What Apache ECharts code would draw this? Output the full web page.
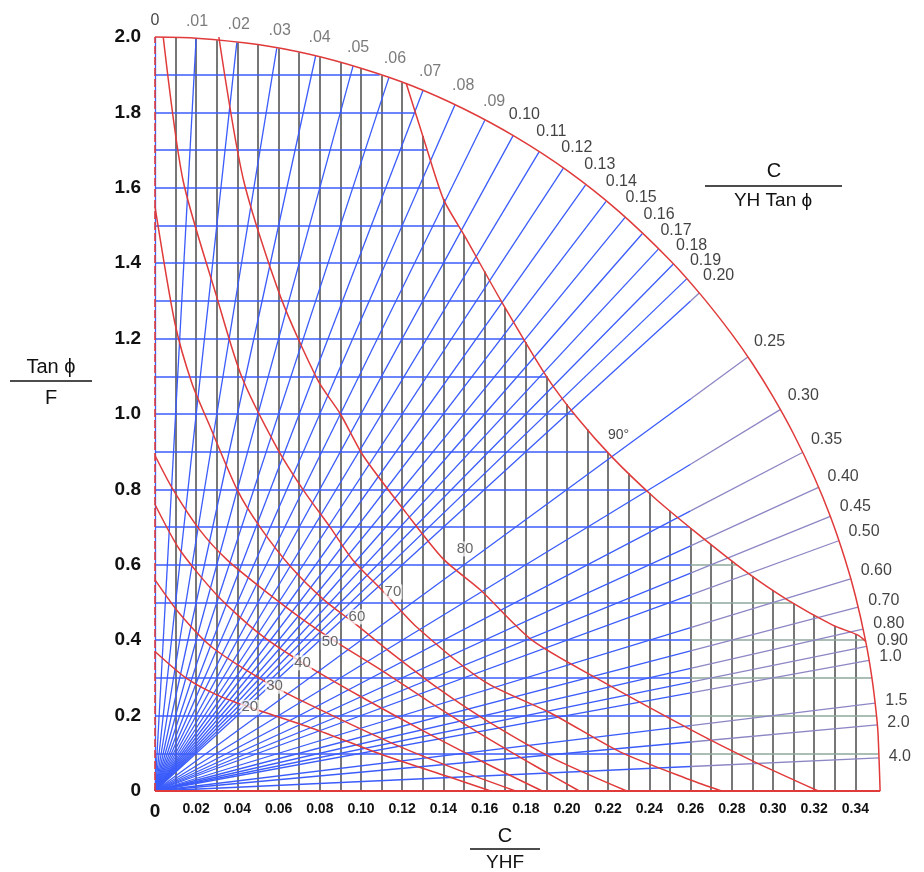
<!DOCTYPE html>
<html><head><meta charset="utf-8">
<script src="https://cdn.jsdelivr.net/npm/echarts@6/dist/echarts.min.js"></script>
<style>html,body{margin:0;padding:0;background:#fff}#c{width:924px;height:872px}</style>
</head><body><div id="c"></div>
<script>
// ---------- data ----------
const xTicks = [0,0.02,0.04,0.06,0.08,0.10,0.12,0.14,0.16,0.18,0.20,0.22,0.24,0.26,0.28,0.30,0.32,0.34];
const yTicks = [0,0.2,0.4,0.6,0.8,1.0,1.2,1.4,1.6,1.8,2.0];
const vGridX = [0.01,0.02,0.03,0.04,0.05,0.06,0.07,0.08,0.09,0.10,0.11,0.12,0.13,0.14,0.15,0.16,0.17,0.18,0.19,0.20,0.21,0.22,0.23,0.24,0.25,0.26,0.27,0.28,0.29,0.30,0.31,0.32,0.33,0.34];
const hGridY = [0.1,0.2,0.3,0.4,0.5,0.6,0.7,0.8,0.9,1.0,1.1,1.2,1.3,1.4,1.5,1.6,1.7,1.8,1.9];
// C/(YH tan phi) radial lines
const rayRatios = [0,0.01,0.02,0.03,0.04,0.05,0.06,0.07,0.08,0.09,0.10,0.11,0.12,0.13,0.14,0.15,0.16,0.17,0.18,0.19,0.20,0.25,0.30,0.35,0.40,0.45,0.50,0.60,0.70,0.80,0.90,1.0,1.5,2.0,4.0];
const rayLabels = ['0','.01','.02','.03','.04','.05','.06','.07','.08','.09','0.10','0.11','0.12','0.13','0.14','0.15','0.16','0.17','0.18','0.19','0.20','0.25','0.30','0.35','0.40','0.45','0.50','0.60','0.70','0.80','0.90','1.0','1.5','2.0','4.0'];
// outer boundary arc
const outerArc = [[0,2.0],[0.02,1.997],[0.05,1.98],[0.075,1.954],[0.10,1.917],[0.125,1.870],[0.15,1.809],[0.175,1.735],[0.20,1.646],[0.225,1.538],[0.25,1.408],[0.265,1.316],[0.28,1.212],[0.29,1.134],[0.30,1.046],[0.31,0.947],[0.32,0.833],[0.328,0.726],[0.335,0.614],[0.34,0.518],[0.345,0.397],[0.348,0.301],[0.35,0.213],[0.351,0.150],[0.352,0]];
// slope angle curves
const slope90 = [[0.122,1.876],[0.131,1.72],[0.140,1.57],[0.150,1.475],[0.168,1.30],[0.190,1.10],[0.205,0.99],[0.222,0.885],[0.242,0.78],[0.263,0.684],[0.287,0.581],[0.307,0.507],[0.329,0.44],[0.341,0.414],[0.345,0.397]];
const slope80 = [[0.031,2.0],[0.043,1.62],[0.061,1.31],[0.079,1.09],[0.090,1.0],[0.101,0.89],[0.122,0.737],[0.14,0.615],[0.158,0.533],[0.183,0.40],[0.216,0.294],[0.263,0.154],[0.29,0.08],[0.322,0]];
const slope70 = [[0.004,2.0],[0.0136,1.62],[0.030,1.31],[0.042,1.10],[0.059,0.912],[0.072,0.798],[0.085,0.70],[0.096,0.613],[0.111,0.528],[0.127,0.435],[0.16,0.29],[0.192,0.207],[0.226,0.103],[0.26,0.029],[0.275,0]];
const slope60 = [[0,1.55],[0.0097,1.24],[0.018,1.08],[0.026,0.976],[0.040,0.798],[0.051,0.70],[0.066,0.594],[0.082,0.507],[0.098,0.44],[0.115,0.365],[0.138,0.27],[0.16,0.19],[0.192,0.09],[0.229,0]];
const slope50 = [[0,0.89],[0.0087,0.80],[0.0218,0.692],[0.035,0.613],[0.051,0.541],[0.072,0.454],[0.088,0.395],[0.11,0.32],[0.135,0.23],[0.16,0.145],[0.185,0.065],[0.206,0]];
const slope40 = [[0,0.76],[0.012,0.64],[0.03,0.52],[0.05,0.42],[0.0716,0.34],[0.1,0.25],[0.13,0.16],[0.16,0.075],[0.188,0]];
const slope30 = [[0,0.56],[0.012,0.47],[0.028,0.38],[0.058,0.276],[0.09,0.19],[0.12,0.115],[0.15,0.05],[0.175,0]];
const slope20 = [[0,0.37],[0.015,0.30],[0.03,0.255],[0.046,0.222],[0.0786,0.162],[0.111,0.095],[0.143,0.037],[0.163,0]];
const slopeLabels = ['20','30','40','50','60','70','80','90°'];
const slopeLabelAt = [[0.046,0.222],[0.058,0.278],[0.0716,0.34],[0.085,0.395],[0.098,0.462],[0.1155,0.528],[0.1505,0.642],[0.225,0.944]];

// ---------- helpers (derive geometry from the data above) ----------
function yAtX(poly, x){
  if (x <= poly[0][0]) return poly[0][1];
  for (let i=1;i<poly.length;i++){
    const a=poly[i-1], b=poly[i];
    if (x <= b[0]) return a[1] + (b[1]-a[1])*(x-a[0])/(b[0]-a[0]);
  }
  return poly[poly.length-1][1];
}
function xAtY(poly, y){
  if (y >= poly[0][1]) return poly[0][0];
  for (let i=1;i<poly.length;i++){
    const a=poly[i-1], b=poly[i];
    if (y >= b[1]) return a[0] + (b[0]-a[0])*(y-a[1])/(b[1]-a[1]);
  }
  return poly[poly.length-1][0];
}
function topAt(x){
  let t = yAtX(outerArc, x);
  if (x >= slope90[0][0]) t = Math.min(t, yAtX(slope90, x));
  return t;
}
function rightAt(y){
  let r = xAtY(outerArc, y);
  if (y <= slope90[0][1] && y >= slope90[slope90.length-1][1]) r = Math.min(r, xAtY(slope90, y));
  return r;
}
function rayEnd(l){
  if (l === 0) return [0, outerArc[0][1]];
  for (let i=1;i<outerArc.length;i++){
    const a=outerArc[i-1], b=outerArc[i];
    const den = (b[0]-a[0]) - l*(b[1]-a[1]);
    const t = (l*a[1]-a[0])/den;
    if (t>=0 && t<=1) return [a[0]+t*(b[0]-a[0]), a[1]+t*(b[1]-a[1])];
  }
  return outerArc[outerArc.length-1];
}
const SPLIT = 0.26;
const vLines = vGridX.map(x => ({coords:[[x,0],[x,topAt(x)]]}));
const hLinesA = [], hLinesB = [];
hGridY.forEach(y => {
  const r = rightAt(y);
  hLinesA.push({coords:[[0,y],[Math.min(r,SPLIT),y]]});
  if (r > SPLIT) hLinesB.push({coords:[[SPLIT,y],[r,y]]});
});
const rayEnds = rayRatios.map(rayEnd);
const raysA = [], raysB = [];
rayRatios.forEach((l,i) => {
  const e = rayEnds[i];
  if (e[0] > SPLIT) {
    const m = [SPLIT, SPLIT/l];
    raysA.push({coords:[[0,0],m]});
    raysB.push({coords:[m,e]});
  } else raysA.push({coords:[[0,0],e]});
});

const FONT = '"Liberation Sans", Arial, sans-serif';
const BLUE = '#3b5cfb', RED = '#e03a3a', GREY = '#555555';
function curveSeries(data){
  return {type:'line', data:data, showSymbol:false, smooth:0.25, silent:true, z:4,
    lineStyle:{color:RED, width:1.5}, clip:false};
}
function linesSeries(data, color, width, z){
  return {type:'lines', coordinateSystem:'cartesian2d', polyline:false, data:data, silent:true, z:z,
    lineStyle:{color:color, width:width, opacity:1}, effect:{show:false}};
}

const chart = echarts.init(document.getElementById('c'));
const option = {
  animation:false,
  backgroundColor:'#fff',
  textStyle:{fontFamily:FONT},
  grid:{left:155, right:924-155-0.36*2060, top:37, bottom:81},
  xAxis:{type:'value', min:0, max:0.36, splitLine:{show:false}, axisLine:{show:false}, axisTick:{show:false},
    axisLabel:{customValues:xTicks, color:'#111', fontSize:14, fontWeight:'bold', fontFamily:FONT, margin:11,
      formatter:v => v===0 ? '{z|0}' : v.toFixed(2), rich:{z:{fontSize:19, fontWeight:'bold', fontFamily:FONT}}}},
  yAxis:{type:'value', min:0, max:2.0, splitLine:{show:false}, axisLine:{show:false}, axisTick:{show:false},
    axisLabel:{customValues:yTicks, color:'#111', fontSize:19, fontWeight:'bold', fontFamily:FONT, margin:14,
      formatter:v => v===0 ? '0' : v.toFixed(1)}},
  series:[
    linesSeries(vLines, GREY, 1.6, 1),
    linesSeries(hLinesA, BLUE, 1.5, 2),
    linesSeries(hLinesB, '#8fa89c', 1.5, 2),
    linesSeries(raysA, BLUE, 1.3, 3),
    linesSeries(raysB, '#8c86c4', 1.3, 3),
    linesSeries([{coords:[[0,0],[0.352,0]]}], RED, 2, 4),
    {type:'lines', coordinateSystem:'cartesian2d', data:[{coords:[[0,0],[0,2.0]]}], silent:true, z:4,
      lineStyle:{color:RED, width:1.6, type:[8,3], opacity:1}},
    curveSeries(outerArc), curveSeries(slope90), curveSeries(slope80), curveSeries(slope70),
    curveSeries(slope60), curveSeries(slope50), curveSeries(slope40), curveSeries(slope30), curveSeries(slope20),
    {type:'scatter', id:'slopeLab', z:6, silent:true, symbolSize:1, itemStyle:{color:'rgba(0,0,0,0)'},
      data: slopeLabelAt.map((p,i)=>({value:p, label:{formatter:slopeLabels[i],
        color: i===7 ? '#111' : '#444', fontSize: i===7 ? 14 : 15}})),
      label:{show:true, position:'inside', fontFamily:FONT, backgroundColor:'rgba(255,255,255,0.9)', padding:[0,1]}},
    {type:'scatter', id:'rayLab', z:6, silent:true, symbolSize:1, itemStyle:{color:'rgba(0,0,0,0)'},
      data: rayEnds.map((p,i)=>({value:p})),
      label:{show:true, position:'inside', fontFamily:FONT, fontSize:16, color:'#111', formatter:''}}
  ],
  graphic:[
    {type:'text', style:{text:'C', x:505, y:836, font:'20px '+FONT, fill:'#111', align:'center', verticalAlign:'middle'}},
    {type:'line', shape:{x1:470, y1:849, x2:540, y2:849}, style:{stroke:'#111', lineWidth:1.5}},
    {type:'text', style:{text:'YHF', x:505, y:863, font:'19px '+FONT, fill:'#111', align:'center', verticalAlign:'middle'}},
    {type:'text', style:{text:'Tan ϕ', x:51, y:367, font:'20px '+FONT, fill:'#111', align:'center', verticalAlign:'middle'}},
    {type:'line', shape:{x1:10, y1:381, x2:92, y2:381}, style:{stroke:'#111', lineWidth:1.5}},
    {type:'text', style:{text:'F', x:51, y:398, font:'20px '+FONT, fill:'#111', align:'center', verticalAlign:'middle'}},
    {type:'text', style:{text:'C', x:774, y:171, font:'20px '+FONT, fill:'#111', align:'center', verticalAlign:'middle'}},
    {type:'line', shape:{x1:705, y1:186, x2:842, y2:186}, style:{stroke:'#111', lineWidth:1.5}},
    {type:'text', style:{text:'YH Tan ϕ', x:773, y:201, font:'19px '+FONT, fill:'#111', align:'center', verticalAlign:'middle'}}
  ]
};
chart.setOption(option);

// place the ray labels just outside the arc, along each ray
const o = chart.convertToPixel({gridIndex:0}, [0,0]);
const rayLabData = rayEnds.map((p,i) => {
  const px = chart.convertToPixel({gridIndex:0}, p);
  const dx = px[0]-o[0], dy = o[1]-px[1];
  const th = Math.atan2(dy, dx);
  const txt = rayLabels[i];
  const w = txt.length*9;
  const d = 7 + (w/2)*Math.abs(Math.cos(th)) + 9*Math.abs(Math.sin(th));
  const grey = i>=1 && i<=9;
  return {value:p, label:{formatter:txt, offset:[d*Math.cos(th), -d*Math.sin(th)], color: grey ? '#5a5a5a' : '#111'}};
});
chart.setOption({series:[{id:'rayLab', data:rayLabData}]});
</script>
</body></html>
